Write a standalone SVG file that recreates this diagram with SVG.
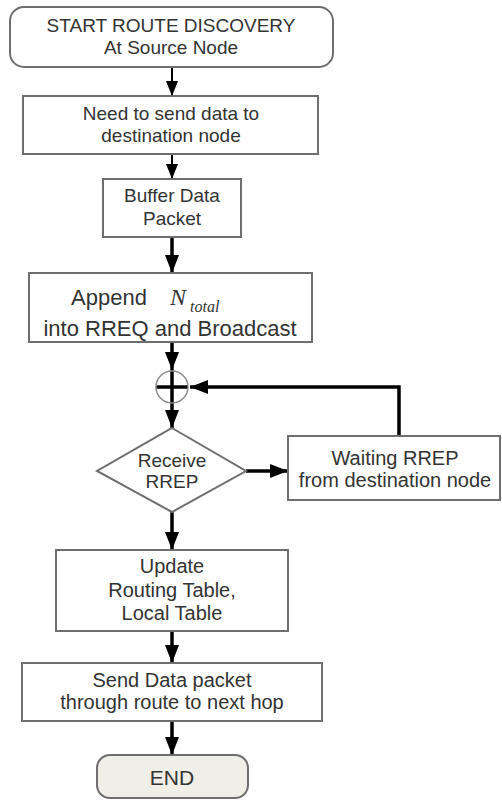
<svg xmlns="http://www.w3.org/2000/svg" width="502" height="800" viewBox="0 0 502 800">
  <style>
    .box { fill: #ffffff; stroke: #6e6e6e; stroke-width: 2; }
    .term { fill: #ffffff; stroke: #6e6e6e; stroke-width: 2; }
    .end { fill: #efeee7; stroke: #6e6e6e; stroke-width: 2; }
    .circ { fill: none; stroke: #8a8a8a; stroke-width: 1.5; }
    text { font-family: "Liberation Sans", Arial, sans-serif; fill: #333333; text-anchor: middle; }
    .s19 { font-size: 19px; }
    .s20 { font-size: 20px; }
    .s21 { font-size: 21px; }
    .s22 { font-size: 22px; }
    .math { font-family: "Liberation Serif", "Times New Roman", serif; font-style: italic; text-anchor: start; }
    .thin { fill: none; stroke: #000000; stroke-width: 2; }
    .thick { fill: none; stroke: #000000; stroke-width: 3.5; }
  </style>
  <defs>
    <marker id="headThin" markerUnits="userSpaceOnUse" markerWidth="15" markerHeight="12" viewBox="0 0 15 12" refX="15" refY="6" orient="auto">
      <path d="M0,0 L15,6 L0,12 Z" fill="#000000"/>
    </marker>
    <marker id="headThick" markerUnits="userSpaceOnUse" markerWidth="18" markerHeight="14" viewBox="0 0 18 14" refX="18" refY="7" orient="auto">
      <path d="M0,0 L18,7 L0,14 Z" fill="#000000"/>
    </marker>
  </defs>

  <!-- connectors -->
  <g id="connectors">
    <line class="thin" x1="172" y1="67" x2="172" y2="96" marker-end="url(#headThin)"/>
    <line class="thin" x1="172" y1="154" x2="172" y2="179" marker-end="url(#headThin)"/>
    <line class="thick" x1="172" y1="237" x2="172" y2="273" marker-end="url(#headThick)"/>
    <line class="thick" x1="172" y1="342" x2="172" y2="370" marker-end="url(#headThick)"/>
    <line class="thick" x1="172" y1="370" x2="172" y2="428" marker-end="url(#headThick)"/>
    <line class="thick" x1="156" y1="387" x2="188" y2="387"/>
    <polyline class="thick" points="399,436 399,387 190,387" marker-end="url(#headThick)"/>
    <line class="thick" x1="246" y1="471" x2="288" y2="471" marker-end="url(#headThick)"/>
    <line class="thick" x1="172" y1="512" x2="172" y2="550" marker-end="url(#headThick)"/>
    <line class="thick" x1="172" y1="631" x2="172" y2="663" marker-end="url(#headThick)"/>
    <line class="thick" x1="172" y1="721" x2="172" y2="755" marker-end="url(#headThick)"/>
  </g>

  <g id="start">
    <rect class="term" x="10" y="7" width="323" height="60" rx="14"/>
    <text class="s19" x="171" y="32">START ROUTE DISCOVERY</text>
    <text class="s19" x="171" y="54">At Source Node</text>
  </g>

  <g id="need-send">
    <rect class="box" x="23" y="96" width="295" height="58"/>
    <text class="s19" x="171" y="120">Need to send data to</text>
    <text class="s19" x="171" y="142">destination node</text>
  </g>

  <g id="buffer">
    <rect class="box" x="103" y="179" width="138" height="58"/>
    <text class="s19" x="172" y="202">Buffer Data</text>
    <text class="s19" x="172" y="225">Packet</text>
  </g>

  <g id="append">
    <rect class="box" x="29" y="273" width="283" height="69"/>
    <text class="s22" x="109" y="305">Append</text>
    <text class="math" x="170" y="305" font-size="24">N</text>
    <text class="math" x="190" y="312" font-size="16">total</text>
    <text class="s22" x="170" y="336">into RREQ and Broadcast</text>
  </g>

  <g id="junction">
    <circle class="circ" cx="172" cy="387" r="16"/>
  </g>

  <g id="receive">
    <polygon class="box" points="172,428 246,471 172,512 97,471"/>
    <text class="s19" x="172" y="467">Receive</text>
    <text class="s19" x="172" y="488">RREP</text>
  </g>

  <g id="waiting">
    <rect class="box" x="288" y="436" width="212" height="64"/>
    <text class="s20" x="395" y="465">Waiting RREP</text>
    <text class="s20" x="395" y="487">from destination node</text>
  </g>

  <g id="update">
    <rect class="box" x="56" y="550" width="232" height="81"/>
    <text class="s20" x="172" y="573">Update</text>
    <text class="s20" x="172" y="597">Routing Table,</text>
    <text class="s20" x="172" y="620">Local Table</text>
  </g>

  <g id="send">
    <rect class="box" x="22" y="663" width="300" height="58"/>
    <text class="s20" x="172" y="687">Send Data packet</text>
    <text class="s20" x="172" y="709">through route to next hop</text>
  </g>

  <g id="end">
    <rect class="end" x="97" y="755" width="151" height="43" rx="13"/>
    <text class="s21" x="172" y="785">END</text>
  </g>
</svg>
